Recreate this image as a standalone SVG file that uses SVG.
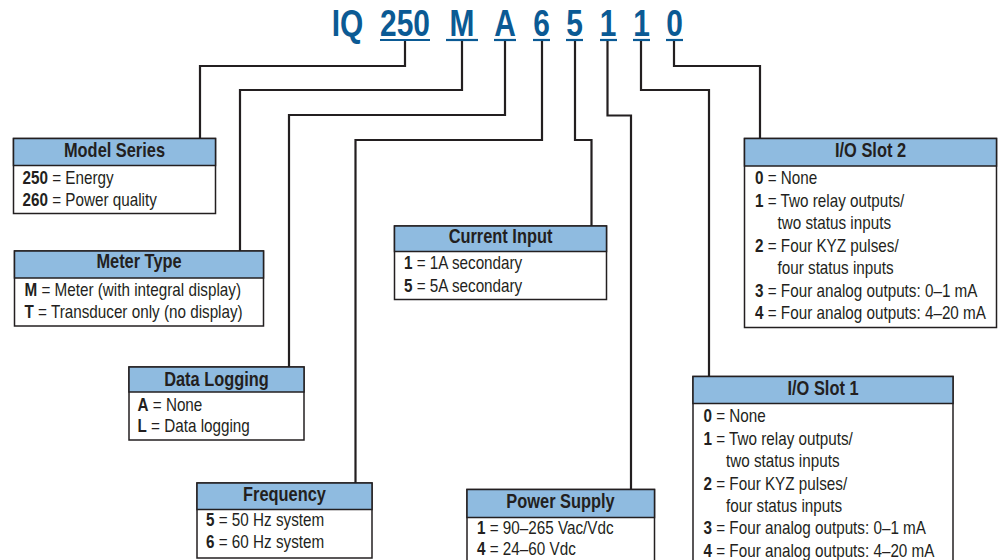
<svg xmlns="http://www.w3.org/2000/svg" width="1002" height="560" viewBox="0 0 1002 560">
<style>
text{font-family:"Liberation Sans",Arial,sans-serif;fill:#231f20}
.code{font-size:36.5px;font-weight:bold;fill:#0b5a94;text-anchor:middle}
.ul{stroke:#0b5a94;stroke-width:2.2}
.hd{font-size:20px;font-weight:bold;text-anchor:middle}
.bd{font-size:18.6px}
.b{font-weight:bold}
.box{fill:#fff;stroke:#231f20;stroke-width:1.5}
.hf{fill:#8fbbe0;stroke:#231f20;stroke-width:1.5}
.con{fill:none;stroke:#231f20;stroke-width:2.2}
</style>
<g id="code">
<text class="code" transform="translate(347.5,36) scale(0.82,1)">IQ</text>
<text class="code" transform="translate(405,36) scale(0.82,1)">250</text>
<text class="code" transform="translate(462,36) scale(0.82,1)">M</text>
<text class="code" transform="translate(505,36) scale(0.82,1)">A</text>
<text class="code" transform="translate(541.5,36) scale(0.82,1)">6</text>
<text class="code" transform="translate(574.5,36) scale(0.82,1)">5</text>
<text class="code" transform="translate(608,36) scale(0.82,1)">1</text>
<text class="code" transform="translate(641.5,36) scale(0.82,1)">1</text>
<text class="code" transform="translate(674.5,36) scale(0.82,1)">0</text>
<line class="ul" x1="380" y1="40" x2="430" y2="40"/>
<line class="ul" x1="446" y1="40" x2="478" y2="40"/>
<line class="ul" x1="494" y1="40" x2="516" y2="40"/>
<line class="ul" x1="533" y1="40" x2="550" y2="40"/>
<line class="ul" x1="566" y1="40" x2="583" y2="40"/>
<line class="ul" x1="600" y1="40" x2="617" y2="40"/>
<line class="ul" x1="633" y1="40" x2="650" y2="40"/>
<line class="ul" x1="666" y1="40" x2="683" y2="40"/>
</g>
<g id="connectors">
<path class="con" d="M405,41 V66 H200 V138"/>
<path class="con" d="M462,41 V90 H240 V251"/>
<path class="con" d="M505,41 V115 H289 V367"/>
<path class="con" d="M542,41 V140 H355.5 V483"/>
<path class="con" d="M575,41 V140 H591.5 V226"/>
<path class="con" d="M607.5,41 V115.5 H631 V489"/>
<path class="con" d="M641,41 V90 H709 V376"/>
<path class="con" d="M674,41 V66 H760 V138"/>
</g>
<g id="model-series">
<rect class="box" x="13.5" y="138.5" width="202" height="75"/>
<rect class="hf" x="13.5" y="138.5" width="202" height="27"/>
<text class="hd" transform="translate(114.5,156.5) scale(0.82,1)">Model Series</text>
<text class="bd" transform="translate(22.5,183.5) scale(0.82,1)"><tspan class="b">250</tspan> = Energy</text>
<text class="bd" transform="translate(22.5,205.5) scale(0.82,1)"><tspan class="b">260</tspan> = Power quality</text>
</g>
<g id="meter-type">
<rect class="box" x="14.5" y="251" width="249" height="75"/>
<rect class="hf" x="14.5" y="251" width="249" height="27"/>
<text class="hd" transform="translate(139,268) scale(0.82,1)">Meter Type</text>
<text class="bd" transform="translate(24.5,296) scale(0.82,1)"><tspan class="b">M</tspan> = Meter (with integral display)</text>
<text class="bd" transform="translate(24.5,317.5) scale(0.82,1)"><tspan class="b">T</tspan> = Transducer only (no display)</text>
</g>
<g id="data-logging">
<rect class="box" x="129" y="367" width="175" height="73"/>
<rect class="hf" x="129" y="367" width="175" height="25"/>
<text class="hd" transform="translate(216.5,385.5) scale(0.82,1)">Data Logging</text>
<text class="bd" transform="translate(137.5,410.5) scale(0.82,1)"><tspan class="b">A</tspan> = None</text>
<text class="bd" transform="translate(137.5,432) scale(0.82,1)"><tspan class="b">L</tspan> = Data logging</text>
</g>
<g id="frequency">
<rect class="box" x="197" y="483" width="175" height="75"/>
<rect class="hf" x="197" y="483" width="175" height="26.5"/>
<text class="hd" transform="translate(284.5,500.5) scale(0.82,1)">Frequency</text>
<text class="bd" transform="translate(206,526) scale(0.82,1)"><tspan class="b">5</tspan> = 50 Hz system</text>
<text class="bd" transform="translate(206,548) scale(0.82,1)"><tspan class="b">6</tspan> = 60 Hz system</text>
</g>
<g id="current-input">
<rect class="box" x="394.5" y="226" width="212" height="73.5"/>
<rect class="hf" x="394.5" y="226" width="212" height="25.5"/>
<text class="hd" transform="translate(500.5,242.5) scale(0.82,1)">Current Input</text>
<text class="bd" transform="translate(404,269) scale(0.82,1)"><tspan class="b">1</tspan> = 1A secondary</text>
<text class="bd" transform="translate(404,291.5) scale(0.82,1)"><tspan class="b">5</tspan> = 5A secondary</text>
</g>
<g id="power-supply">
<rect class="box" x="467" y="489.5" width="187.5" height="80"/>
<rect class="hf" x="467" y="489.5" width="187.5" height="28"/>
<text class="hd" transform="translate(560.5,508) scale(0.82,1)">Power Supply</text>
<text class="bd" transform="translate(477,534) scale(0.82,1)"><tspan class="b">1</tspan> = 90–265 Vac/Vdc</text>
<text class="bd" transform="translate(477,555) scale(0.82,1)"><tspan class="b">4</tspan> = 24–60 Vdc</text>
</g>
<g id="io-slot-2">
<rect class="box" x="744.5" y="138.5" width="252" height="189"/>
<rect class="hf" x="744.5" y="138.5" width="252" height="27.5"/>
<text class="hd" transform="translate(870.5,156.5) scale(0.82,1)">I/O Slot 2</text>
<text class="bd" transform="translate(755,184) scale(0.82,1)"><tspan class="b">0</tspan> = None</text>
<text class="bd" transform="translate(755,206.5) scale(0.82,1)"><tspan class="b">1</tspan> = Two relay outputs/</text>
<text class="bd" transform="translate(777.5,229) scale(0.82,1)">two status inputs</text>
<text class="bd" transform="translate(755,251.5) scale(0.82,1)"><tspan class="b">2</tspan> = Four KYZ pulses/</text>
<text class="bd" transform="translate(777.5,274) scale(0.82,1)">four status inputs</text>
<text class="bd" transform="translate(755,296.5) scale(0.82,1)"><tspan class="b">3</tspan> = Four analog outputs: 0–1 mA</text>
<text class="bd" transform="translate(755,319) scale(0.82,1)"><tspan class="b">4</tspan> = Four analog outputs: 4–20 mA</text>
</g>
<g id="io-slot-1">
<rect class="box" x="693" y="376.5" width="260" height="195"/>
<rect class="hf" x="693" y="376.5" width="260" height="27"/>
<text class="hd" transform="translate(823,394.5) scale(0.82,1)">I/O Slot 1</text>
<text class="bd" transform="translate(703.5,421.5) scale(0.82,1)"><tspan class="b">0</tspan> = None</text>
<text class="bd" transform="translate(703.5,444.5) scale(0.82,1)"><tspan class="b">1</tspan> = Two relay outputs/</text>
<text class="bd" transform="translate(726,467) scale(0.82,1)">two status inputs</text>
<text class="bd" transform="translate(703.5,489.5) scale(0.82,1)"><tspan class="b">2</tspan> = Four KYZ pulses/</text>
<text class="bd" transform="translate(726,512) scale(0.82,1)">four status inputs</text>
<text class="bd" transform="translate(703.5,534) scale(0.82,1)"><tspan class="b">3</tspan> = Four analog outputs: 0–1 mA</text>
<text class="bd" transform="translate(703.5,556.5) scale(0.82,1)"><tspan class="b">4</tspan> = Four analog outputs: 4–20 mA</text>
</g>
</svg>
